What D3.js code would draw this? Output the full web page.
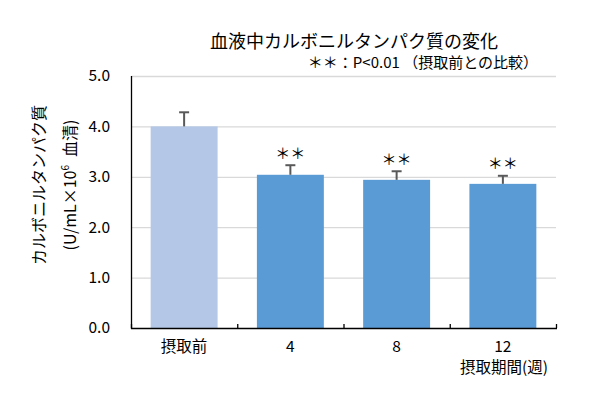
<!DOCTYPE html>
<html><head><meta charset="utf-8">
<script src="https://cdn.jsdelivr.net/npm/d3@7"></script>
<style>body{margin:0;background:#fff}svg{display:block}text{font-family:"Noto Sans CJK JP","Noto Sans",sans-serif;fill:#000}</style>
</head><body><svg id="c" width="590" height="398"></svg>
<script>
const categories = ["摂取前", "4", "8", "12"];
const means = [4.00, 3.04, 2.94, 2.86];
const errors = [0.28, 0.19, 0.17, 0.16];
const significant = [false, true, true, true];
const yTicks = [0, 1, 2, 3, 4, 5];
const barColors = ["#b4c7e7", "#5b9bd5", "#5b9bd5", "#5b9bd5"];

const svg = d3.select("#c");
const L = 131, R = 556, T = 76, B = 328;
const y = d3.scaleLinear().domain([0, 5]).range([B, T]);
const x = d3.scaleBand().domain(categories).range([L, R]).paddingInner(0.37).paddingOuter(0.185);

// gridlines
svg.append("g").selectAll("line").data(yTicks.filter(d => d > 0)).join("line")
  .attr("x1", L).attr("x2", R).attr("y1", d => y(d) + 0.5).attr("y2", d => y(d) + 0.5)
  .attr("stroke", "#d9d9d9").attr("stroke-width", 1.3);

// y axis labels
const ya = svg.append("g").attr("transform", `translate(${L},0)`)
  .call(d3.axisLeft(y).tickValues(yTicks).tickSize(0).tickPadding(21).tickFormat(d3.format(".1f")));
ya.select(".domain").remove();
ya.selectAll("text").style("font-size", "15.5px").style("font-family", '"Noto Sans CJK JP",sans-serif').attr("fill", "#000");

// bars
svg.append("g").selectAll("rect").data(categories).join("rect")
  .attr("x", d => x(d)).attr("width", x.bandwidth())
  .attr("y", (d, i) => y(means[i])).attr("height", (d, i) => B - y(means[i]))
  .attr("fill", (d, i) => barColors[i]);

// error bars
const eg = svg.append("g").attr("stroke", "#595959").attr("stroke-width", 2);
categories.forEach((c, i) => {
  const cx = x(c) + x.bandwidth() / 2;
  eg.append("line").attr("x1", cx).attr("x2", cx).attr("y1", y(means[i])).attr("y2", y(means[i] + errors[i]));
  eg.append("line").attr("x1", cx - 5).attr("x2", cx + 5).attr("y1", y(means[i] + errors[i])).attr("y2", y(means[i] + errors[i]));
});

// significance stars
svg.append("g").selectAll("text").data(categories.filter((c, i) => significant[i])).join("text")
  .attr("x", d => x(d) + x.bandwidth() / 2)
  .attr("y", d => { const i = categories.indexOf(d); return y(means[i] + errors[i]) - 13; })
  .attr("text-anchor", "middle").attr("dominant-baseline", "central")
  .style("font-size", "15px").text("＊＊");

// axes lines
svg.append("line").attr("x1", L + 0.5).attr("x2", L + 0.5).attr("y1", T).attr("y2", B + 1).attr("stroke", "#000").attr("stroke-width", 1.3);
svg.append("line").attr("x1", L).attr("x2", R + 1).attr("y1", B + 0.5).attr("y2", B + 0.5).attr("stroke", "#000").attr("stroke-width", 1.3);

// x ticks at band boundaries
const bounds = categories.map(c => x(c) - x.step() * x.paddingInner() / 2).concat([R]);
svg.append("g").selectAll("line").data(bounds).join("line")
  .attr("x1", d => d + 0.5).attr("x2", d => d + 0.5).attr("y1", B - 4).attr("y2", B)
  .attr("stroke", "#000").attr("stroke-width", 1.3);

// x labels
svg.append("g").selectAll("text").data(categories).join("text")
  .attr("x", d => x(d) + x.bandwidth() / 2).attr("y", 345)
  .attr("text-anchor", "middle").attr("dominant-baseline", "central")
  .style("font-size", "15.5px").text(d => d);

svg.append("text").attr("x", 548).attr("y", 366).attr("text-anchor", "end").attr("dominant-baseline", "central")
  .style("font-size", "15.5px").text("摂取期間(週)");

// titles
svg.append("text").attr("x", 354).attr("y", 40).attr("text-anchor", "middle").attr("dominant-baseline", "central")
  .style("font-size", "18px").text("血液中カルボニルタンパク質の変化");
svg.append("text").attr("x", 538).attr("y", 61).attr("text-anchor", "end").attr("dominant-baseline", "central")
  .style("font-size", "15px").text("＊＊：P<0.01 （摂取前との比較）");

// y axis title
const yt = svg.append("g").attr("transform", "translate(38,185) rotate(-90)");
yt.append("text").attr("text-anchor", "middle").attr("dominant-baseline", "central")
  .style("font-size", "16px").text("カルボニルタンパク質");
const yt2 = svg.append("g").attr("transform", "translate(69,185) rotate(-90)");
const t2 = yt2.append("text").attr("text-anchor", "middle").attr("dominant-baseline", "central").style("font-size", "16px");
t2.append("tspan").text("(U/mL×10");
t2.append("tspan").attr("dy", -5).style("font-size", "10px").text("6");
t2.append("tspan").attr("dy", 5).text("\u2002血清)");
</script></body></html>
